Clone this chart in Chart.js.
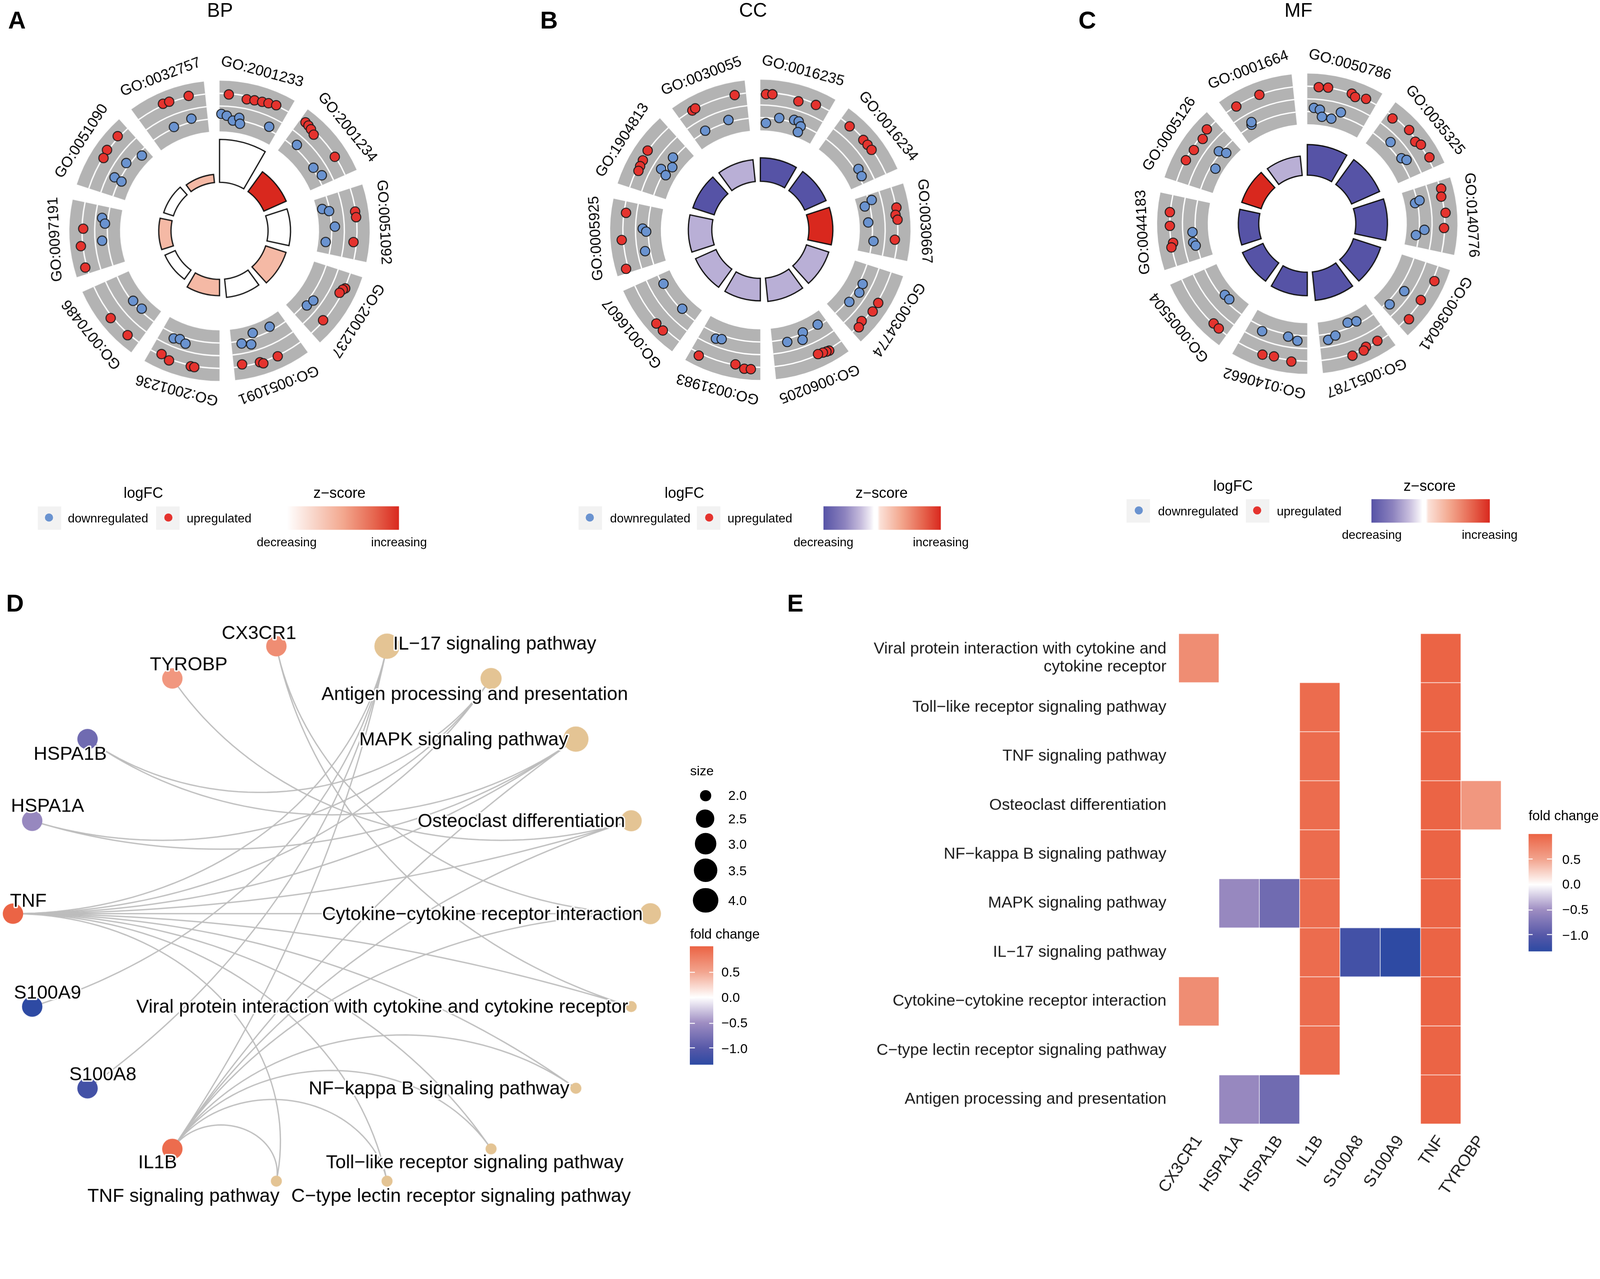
<!DOCTYPE html>
<html>
<head>
<meta charset="utf-8">
<title>GO circle, cnet and heatmap</title>
<script src="https://cdn.jsdelivr.net/npm/chart.js@4.4.1/dist/chart.umd.min.js"></script>
<style>
  html, body { margin: 0; padding: 0; background: #fff; overflow: hidden; }
  #page { position: absolute; left: 0; top: 0; width: 1568px; height: 1186px; transform-origin: 0 0;
          font-family: "Liberation Sans", Arial, Helvetica, sans-serif; color: #000; }
  .panel { position: absolute; }
  .txt { position: absolute; white-space: nowrap; line-height: 1; }
  .abs { position: absolute; }
</style>
</head>
<body>
<div id="page">
  <div class="panel" style="left:25px;top:36px;width:380px;height:380px"><canvas id="circleA"></canvas></div>
  <div class="panel" style="left:555px;top:35px;width:380px;height:380px"><canvas id="circleB"></canvas></div>
  <div class="panel" style="left:1091px;top:29px;width:380px;height:380px"><canvas id="circleC"></canvas></div>
  <div class="panel" style="left:0px;top:590px;width:680px;height:600px"><canvas id="cnetD"></canvas></div>
  <div class="panel" style="left:800px;top:600px;width:690px;height:590px"><canvas id="heatE"></canvas></div>
</div>
<script>
// ---- GO circle data (BP / CC / MF) ----
const bpTerms = ['GO:2001233','GO:2001234','GO:0051092','GO:2001237','GO:0051091','GO:2001236','GO:0070486','GO:0097191','GO:0051090','GO:0032757'];
const bpSignif = [4.2, 2.4, 2.2, 2.1, 1.8, 1.6, 1.1, 1.2, 1.0, 0.8];
const bpZscore = [0, 2.5, 0, 1.0, 0, 1.0, 0, 1.0, 0, 1.0];
// [term index, position inside the term, logFC]
const bpGenes = [
  [0,0.13,0.75],[0,0.39,0.6],[0,0.5,0.65],[0,0.61,0.7],[0,0.7,0.75],[0,0.81,0.82],
  [0,0.03,-0.5],[0,0.12,-0.6],[0,0.23,-0.87],[0,0.33,-0.64],[0,0.36,-1.0],[0,0.85,-0.6],
  [1,0.08,0.86],[1,0.14,0.82],[1,0.2,0.75],[1,0.28,0.62],[1,0.71,0.77],[1,0.2,-0.58],[1,0.67,-0.74],[1,0.85,-0.53],
  [2,0.2,-1.25],[2,0.26,-0.85],[2,0.53,-0.59],[2,0.8,-1.14],[2,0.33,0.77],[2,0.41,0.79],[2,0.76,0.61],
  [3,0.22,0.85],[3,0.25,0.74],[3,0.31,0.65],[3,0.76,0.76],[3,0.75,-0.63],[3,0.62,-0.5],
  [4,0.28,-1.05],[4,0.6,-1.1],[4,0.83,-0.63],[4,0.68,-0.44],[4,0.37,0.85],[4,0.63,0.8],[4,0.59,0.93],[4,0.88,0.67],
  [5,0.77,-0.5],[5,0.67,-0.6],[5,0.56,-0.44],[5,0.84,0.72],[5,0.71,0.9],[5,0.4,0.86],[5,0.35,0.87],
  [6,0.5,-0.86],[6,0.3,-0.93],[6,0.51,0.93],[6,0.18,0.9],
  [7,0.81,-0.42],[7,0.72,-0.63],[7,0.44,-0.44],[7,0.63,0.73],[7,0.39,0.93],[7,0.09,0.91],
  [8,0.83,0.9],[8,0.59,0.87],[8,0.47,0.77],[8,0.87,-1.05],[8,0.6,-0.6],[8,0.3,-0.44],[8,0.29,-0.95],
  [9,0.4,0.9],[9,0.49,0.87],[9,0.77,0.86],[9,0.41,-0.72],[9,0.73,-0.58]
];

const ccTerms = ['GO:0016235','GO:0016234','GO:0030667','GO:0034774','GO:0060205','GO:0031983','GO:0016607','GO:0005925','GO:1904813','GO:0030055'];
const ccSignif = [2.3, 2.3, 2.35, 2.3, 2.3, 2.2, 2.2, 2.3, 2.2, 2.15];
const ccZscore = [-2.2, -2.2, 2.0, -0.97, -0.97, -0.97, -0.97, -0.97, -2.2, -0.97];
const ccGenes = [
  [0,0.08,0.69],[0,0.17,0.71],[0,0.55,0.58],[0,0.8,0.75],[0,0.1,-1.13],[0,0.32,-0.72],[0,0.57,-0.62],[0,0.65,-0.62],[0,0.71,-0.87],[0,0.7,-1.27],
  [1,0.16,0.75],[1,0.43,0.75],[1,0.52,0.76],[1,0.61,0.77],[1,0.74,-0.59],[1,0.87,-0.64],
  [2,0.18,-1.12],[2,0.1,-0.6],[2,0.47,-1.05],[2,0.79,-0.7],[2,0.29,0.83],[2,0.39,0.71],[2,0.46,0.81],[2,0.74,0.64],
  [3,0.33,-0.57],[3,0.48,-0.48],[3,0.7,-0.65],[3,0.46,0.88],[3,0.6,0.89],[3,0.8,0.73],[3,0.89,0.87],
  [4,0.16,-0.89],[4,0.45,-0.87],[4,0.5,-0.44],[4,0.75,-0.6],[4,0.21,0.9],[4,0.25,0.87],[4,0.3,0.82],[4,0.37,0.77],
  [5,0.74,-0.46],[5,0.65,-0.56],[5,0.87,0.96],[5,0.35,0.76],[5,0.22,0.95],[5,0.13,0.94],
  [6,0.83,-0.88],[6,0.29,-0.87],[6,0.4,0.96],[6,0.27,0.97],
  [7,0.84,0.67],[7,0.46,0.9],[7,0.06,0.95],[7,0.62,-0.45],[7,0.57,-0.67],[7,0.25,-0.48],
  [8,0.57,0.82],[8,0.42,0.74],[8,0.33,0.71],[8,0.26,0.67],[8,0.72,-0.72],[8,0.58,-1.06],[8,0.45,-0.53],[8,0.4,-0.98],
  [9,0.21,0.79],[9,0.26,0.82],[9,0.84,0.78],[9,0.23,-0.72],[9,0.66,-0.66]
];

const mfTerms = ['GO:0050786','GO:0035325','GO:0140776','GO:0036041','GO:0051787','GO:0140662','GO:0005504','GO:0044183','GO:0005126','GO:0001664'];
const mfSignif = [3.0, 3.0, 3.1, 2.8, 2.8, 2.3, 2.2, 2.0, 2.0, 1.9];
const mfZscore = [-2.4, -2.4, -2.4, -2.4, -2.4, -2.4, -2.4, -2.4, 2.1, -1.06];
const mfGenes = [
  [0,0.16,0.77],[0,0.29,0.81],[0,0.63,0.8],[0,0.69,0.67],[0,0.84,0.83],[0,0.11,-0.56],[0,0.21,-0.64],[0,0.26,-1.07],[0,0.43,-1.08],[0,0.56,-0.54],
  [1,0.1,0.67],[1,0.38,0.86],[1,0.56,0.68],[1,0.64,0.86],[1,0.85,0.9],[1,0.32,-0.52],[1,0.64,-0.64],[1,0.71,-0.43],
  [2,0.11,0.86],[2,0.22,0.75],[2,0.45,0.88],[2,0.66,0.76],[2,0.24,-0.95],[2,0.21,-0.64],[2,0.7,-0.47],[2,0.8,-0.98],
  [3,0.21,0.93],[3,0.53,0.76],[3,0.84,0.93],[3,0.56,-0.42],[3,0.88,-0.6],
  [4,0.46,-1.13],[4,0.31,-0.98],[4,0.86,-0.43],[4,0.73,-0.6],[4,0.17,0.74],[4,0.35,0.73],[4,0.4,0.89],[4,0.57,0.93],
  [5,0.76,-0.52],[5,0.32,-0.65],[5,0.16,-0.46],[5,0.63,0.86],[5,0.47,0.76],[5,0.22,0.88],
  [6,0.44,-1.0],[6,0.33,-1.02],[6,0.24,0.76],[6,0.14,0.78],
  [7,0.76,0.83],[7,0.57,0.8],[7,0.33,0.68],[7,0.27,0.83],[7,0.46,-0.61],[7,0.29,-0.58],[7,0.23,-0.7],
  [8,0.84,0.82],[8,0.7,0.62],[8,0.5,0.66],[8,0.32,0.77],[8,0.71,-0.66],[8,0.77,-1.09],[8,0.43,-1.12],
  [9,0.16,0.77],[9,0.52,0.8],[9,0.22,-0.71],[9,0.24,-0.56]
];

// ---- KEGG data (cnetplot D + heatmap E) ----
const keggPathways = ['Viral protein interaction with cytokine and cytokine receptor','Toll\u2212like receptor signaling pathway','TNF signaling pathway','Osteoclast differentiation','NF\u2212kappa B signaling pathway','MAPK signaling pathway','IL\u221217 signaling pathway','Cytokine\u2212cytokine receptor interaction','C\u2212type lectin receptor signaling pathway','Antigen processing and presentation'];
const keggGenes = ['CX3CR1','HSPA1A','HSPA1B','IL1B','S100A8','S100A9','TNF','TYROBP'];
const geneFoldChange = [0.68, -0.55, -0.82, 0.93, -1.15, -1.31, 0.99, 0.6];
const pathwayGenes = [
  ['CX3CR1','TNF'], ['IL1B','TNF'], ['IL1B','TNF'], ['IL1B','TNF','TYROBP'], ['IL1B','TNF'],
  ['HSPA1A','HSPA1B','IL1B','TNF'], ['IL1B','S100A8','S100A9','TNF'], ['CX3CR1','IL1B','TNF'],
  ['IL1B','TNF'], ['HSPA1A','HSPA1B','TNF']
];
// node order around the circular layout (starting at -100 deg, counter-clockwise)
const cnetOrder = ['TNF signaling pathway','C\u2212type lectin receptor signaling pathway','Toll\u2212like receptor signaling pathway','NF\u2212kappa B signaling pathway','Viral protein interaction with cytokine and cytokine receptor','Cytokine\u2212cytokine receptor interaction','Osteoclast differentiation','MAPK signaling pathway','Antigen processing and presentation','IL\u221217 signaling pathway','CX3CR1','TYROBP','HSPA1B','HSPA1A','TNF','S100A9','S100A8','IL1B'];
const sizeBreaks = [2.0, 2.5, 3.0, 3.5, 4.0];
const fcBreaks = [0.5, 0.0, -0.5, -1.0];

// ---- styling / layout ----
const S = (window.innerWidth || 4328) / 1568;
const DPR = S * (window.devicePixelRatio || 1);
const FONT = '"Liberation Sans", Arial, Helvetica, sans-serif';
const SEG_STEP = 36, SEG_SPAN = 30;
const HOLE = 47.5, BAR_UNIT = 10, RING_IN = 97.4, RING_OUT = 147, LABEL_R = 157;
const FC_MIN = -1.6, FC_MAX = 1.6, GRID_FC = [-0.8, 0, 0.8];
const UP_COL = '#E5332E', DOWN_COL = '#6A93D0';
const zStops = [[-1,'#5653A6'],[-0.5,'#B0A4D0'],[0,'#FFFFFF'],[0.5,'#F2A88F'],[1,'#D9281E']];
const fcStops = [[-1.32,'#2D4AA3'],[-1.0,'#5658A8'],[-0.5,'#9E8DC2'],[0,'#FFFFFF'],[0.5,'#F2A48E'],[1.0,'#EB6344']];
const FC_LIM = [-1.32, 1.0];
const CNET_RX = 312.3, CNET_RY = 266;
const cnetLabelPos = {
  'CX3CR1': [-17, -12, 'center'], 'TYROBP': [16, -13, 'center'], 'HSPA1B': [-17, 15, 'center'],
  'HSPA1A': [15, -14, 'center'], 'TNF': [15, -12, 'center'], 'S100A9': [15, -13, 'center'],
  'S100A8': [15, -13, 'center'], 'IL1B': [-14.5, 14, 'center'],
  'IL\u221217 signaling pathway': [6, -2, 'left'],
  'Antigen processing and presentation': [-16, 16, 'center'],
  'MAPK signaling pathway': [-7.6, 1, 'right'],
  'Osteoclast differentiation': [-6, 1, 'right'],
  'Cytokine\u2212cytokine receptor interaction': [-7.5, 1, 'right'],
  'Viral protein interaction with cytokine and cytokine receptor': [-3, 1, 'right'],
  'NF\u2212kappa B signaling pathway': [-6.3, 1, 'right'],
  'Toll\u2212like receptor signaling pathway': [-16, 14, 'center'],
  'C\u2212type lectin receptor signaling pathway': [72.5, 15, 'center'],
  'TNF signaling pathway': [-91, 15, 'center']
};

const page = document.getElementById('page');
page.style.transform = 'scale(' + S + ')';

function hexRgb(h) { const n = parseInt(h.slice(1), 16); return [n >> 16 & 255, n >> 8 & 255, n & 255]; }
function lerpColor(stops, v) {
  if (v <= stops[0][0]) return stops[0][1];
  for (let i = 1; i < stops.length; i++) {
    if (v <= stops[i][0]) {
      const t = (v - stops[i - 1][0]) / (stops[i][0] - stops[i - 1][0]);
      const a = hexRgb(stops[i - 1][1]), b = hexRgb(stops[i][1]);
      return 'rgb(' + a.map((x, k) => Math.round(x + (b[k] - x) * t)).join(',') + ')';
    }
  }
  return stops[stops.length - 1][1];
}
const fcColor = v => lerpColor(fcStops, v);

function addText(str, x, y, size, opts = {}) {
  const d = document.createElement('div');
  d.className = 'txt';
  d.textContent = str;
  d.style.left = x + 'px';
  d.style.top = y + 'px';
  d.style.fontSize = size + 'px';
  const ax = opts.align === 'left' ? '0' : opts.align === 'right' ? '-100%' : '-50%';
  d.style.transform = 'translate(' + ax + ',-50%)';
  if (opts.bold) d.style.fontWeight = 'bold';
  page.appendChild(d);
  return d;
}
function addBox(x, y, w, h, css) {
  const d = document.createElement('div');
  d.className = 'abs';
  d.style.cssText += 'left:' + x + 'px;top:' + y + 'px;width:' + w + 'px;height:' + h + 'px;' + css;
  page.appendChild(d);
  return d;
}

// ---------- A/B/C: GO circles ----------
const fcRadius = v => RING_IN + (v - FC_MIN) / (FC_MAX - FC_MIN) * (RING_OUT - RING_IN);
function genePoint(g) {
  const ang = (g[0] * SEG_STEP + g[1] * SEG_SPAN) * Math.PI / 180;
  const r = fcRadius(g[2]);
  return { x: r * Math.sin(ang), y: r * Math.cos(ang) };
}

function ringPlugin(terms, signif, zscore) {
  const negExt = Math.max(...zscore.map(z => -z), 1e-9);
  const posExt = Math.max(...zscore, 1e-9);
  return {
    id: 'goRing',
    beforeDatasetsDraw(chart) {
      const { ctx } = chart;
      const xs = chart.scales.x, ys = chart.scales.y;
      const cx = xs.getPixelForValue(0), cy = ys.getPixelForValue(0);
      const rad = v => xs.getPixelForValue(v) - cx;
      ctx.save();
      terms.forEach((term, i) => {
        const a0 = (i * SEG_STEP - 90) * Math.PI / 180;
        const a1 = (i * SEG_STEP + SEG_SPAN - 90) * Math.PI / 180;
        // grey logFC track
        ctx.beginPath();
        ctx.arc(cx, cy, rad(RING_OUT), a0, a1);
        ctx.arc(cx, cy, rad(RING_IN), a1, a0, true);
        ctx.closePath();
        ctx.fillStyle = '#B3B3B3';
        ctx.fill();
        ctx.strokeStyle = '#FFFFFF';
        ctx.lineWidth = 1.3;
        GRID_FC.forEach(v => { ctx.beginPath(); ctx.arc(cx, cy, rad(fcRadius(v)), a0, a1); ctx.stroke(); });
        // inner bar, coloured by z-score
        const z = zscore[i];
        const t = z < 0 ? z / negExt : z / posExt;
        ctx.beginPath();
        ctx.arc(cx, cy, rad(HOLE + signif[i] * BAR_UNIT), a0, a1);
        ctx.arc(cx, cy, rad(HOLE), a1, a0, true);
        ctx.closePath();
        ctx.fillStyle = lerpColor(zStops, t);
        ctx.fill();
        ctx.strokeStyle = '#111';
        ctx.lineWidth = 1.2;
        ctx.lineJoin = 'miter';
        ctx.stroke();
        // term label
        ctx.save();
        ctx.translate(cx, cy);
        ctx.rotate((i * SEG_STEP + SEG_SPAN / 2) * Math.PI / 180);
        ctx.font = '14.5px ' + FONT;
        ctx.fillStyle = '#000';
        ctx.textAlign = 'center';
        ctx.textBaseline = 'alphabetic';
        ctx.fillText(term, 0, -rad(LABEL_R));
        ctx.restore();
      });
      ctx.restore();
    }
  };
}

function goCircle(id, terms, signif, zscore, genes) {
  new Chart(document.getElementById(id), {
    type: 'scatter',
    data: {
      datasets: [
        { data: genes.filter(g => g[2] < 0).map(genePoint), backgroundColor: DOWN_COL },
        { data: genes.filter(g => g[2] > 0).map(genePoint), backgroundColor: UP_COL }
      ]
    },
    options: {
      responsive: true, maintainAspectRatio: false, animation: false, devicePixelRatio: DPR,
      layout: { padding: 0, autoPadding: false },
      elements: { point: { radius: 4.6, borderWidth: 0.9, borderColor: '#1a1a1a', hoverRadius: 4.6 } },
      scales: { x: { display: false, min: -190, max: 190 }, y: { display: false, min: -190, max: 190 } },
      plugins: { legend: { display: false }, tooltip: { enabled: false } },
      events: []
    },
    plugins: [ringPlugin(terms, signif, zscore)]
  });
}
goCircle('circleA', bpTerms, bpSignif, bpZscore, bpGenes);
goCircle('circleB', ccTerms, ccSignif, ccZscore, ccGenes);
goCircle('circleC', mfTerms, mfSignif, mfZscore, mfGenes);

// panel letters and titles
[['A', 16.6, 19.5], ['B', 538, 19.5], ['C', 1065.5, 19.5], ['D', 14.7, 591], ['E', 779.4, 591]]
  .forEach(([s, x, y]) => addText(s, x, y, 24, { bold: true }));
[['BP', 215.6], ['CC', 738], ['MF', 1272.5]].forEach(([s, x]) => addText(s, x, 10, 19));

// GO legends
const zGradRed = 'linear-gradient(to right,#FFFFFF 0%,#F9D9CE 22%,#F3A88F 50%,#E6664F 78%,#D9281E 100%)';
const zGradBoth = 'linear-gradient(to right,#5653A6 0%,#8C82BE 18%,#C7BDDD 32%,#EEEAF4 40%,#FFFFFF 43%,#FFFFFF 46%,#FBE1D8 48%,#F3A88F 66%,#E5604A 86%,#D9281E 100%)';
function goLegend(L) {
  addText('logFC', L.logX, L.titleY, 14.5);
  addBox(L.downBox, L.boxY, 23, 23, 'background:#F2F2F2');
  addBox(L.downBox + 7.5, L.boxY + 7.5, 8, 8, 'border-radius:50%;background:' + DOWN_COL);
  addText('downregulated', L.downText, L.boxY + 12, 12, { align: 'left' });
  addBox(L.upBox, L.boxY, 23, 23, 'background:#F2F2F2');
  addBox(L.upBox + 7.5, L.boxY + 7.5, 8, 8, 'border-radius:50%;background:' + UP_COL);
  addText('upregulated', L.upText, L.boxY + 12, 12, { align: 'left' });
  addText('z\u2212score', L.zX, L.titleY, 14.5);
  addBox(L.bar0, L.boxY, L.bar1 - L.bar0, 23, 'background:' + L.grad);
  addText('decreasing', L.bar0, L.labelY, 12);
  addText('increasing', L.bar1, L.labelY, 12);
}
goLegend({ logX: 140.5, titleY: 483, boxY: 495.5, downBox: 36.6, downText: 66.5, upBox: 153, upText: 183, zX: 332.7, bar0: 281, bar1: 391, labelY: 531, grad: zGradRed });
goLegend({ logX: 670.7, titleY: 483, boxY: 495.5, downBox: 566.7, downText: 597.9, upBox: 683, upText: 713, zX: 864, bar0: 807, bar1: 922, labelY: 531, grad: zGradBoth });
goLegend({ logX: 1208.4, titleY: 476.3, boxY: 488.7, downBox: 1104, downText: 1134.9, upBox: 1220.7, upText: 1251.3, zX: 1401, bar0: 1344.4, bar1: 1459.9, labelY: 524.4, grad: zGradBoth });

// ---------- D: cnetplot (circular layout) ----------
const nodeAngle = k => (-100 + 20 * k) * Math.PI / 180;
const sizeRadius = s => 5.4 + 7 * Math.sqrt((s - 2) / 2);
const isGene = name => keggGenes.includes(name);
const nodeXY = k => ({ x: CNET_RX * Math.cos(nodeAngle(k)), y: CNET_RY * Math.sin(nodeAngle(k)) });

const pathNodes = cnetOrder.map((n, k) => [n, k]).filter(([n]) => !isGene(n));
const geneNodes = cnetOrder.map((n, k) => [n, k]).filter(([n]) => isGene(n));

function arcPoints(t1, t2) {
  // arc orthogonal to the layout circle, in unit-circle space
  let d = t2 - t1;
  while (d > Math.PI) d -= 2 * Math.PI;
  while (d <= -Math.PI) d += 2 * Math.PI;
  const phi = Math.abs(d);
  const A = [Math.cos(t1), Math.sin(t1)], B = [Math.cos(t2), Math.sin(t2)];
  if (phi > Math.PI - 0.02) return [A, B];
  const m = t1 + d / 2, q = 1 / Math.cos(phi / 2), rho = Math.tan(phi / 2);
  const Q = [q * Math.cos(m), q * Math.sin(m)];
  const s1 = Math.atan2(A[1] - Q[1], A[0] - Q[0]);
  let ds = Math.atan2(B[1] - Q[1], B[0] - Q[0]) - s1;
  while (ds > Math.PI) ds -= 2 * Math.PI;
  while (ds < -Math.PI) ds += 2 * Math.PI;
  const pts = [];
  for (let j = 0; j <= 48; j++) {
    const s = s1 + ds * j / 48;
    pts.push([Q[0] + rho * Math.cos(s), Q[1] + rho * Math.sin(s)]);
  }
  return pts;
}

const cnetPlugin = {
  id: 'cnet',
  beforeDatasetsDraw(chart) {
    const { ctx } = chart;
    const xs = chart.scales.x, ys = chart.scales.y;
    ctx.save();
    ctx.strokeStyle = '#BDBDBD';
    ctx.lineWidth = 1.25;
    keggPathways.forEach((p, i) => {
      const kp = cnetOrder.indexOf(p);
      pathwayGenes[i].forEach(g => {
        const kg = cnetOrder.indexOf(g);
        const pts = arcPoints(nodeAngle(kg), nodeAngle(kp));
        ctx.beginPath();
        pts.forEach(([ux, uy], j) => {
          const px = xs.getPixelForValue(ux * CNET_RX), py = ys.getPixelForValue(uy * CNET_RY);
          if (j === 0) ctx.moveTo(px, py); else ctx.lineTo(px, py);
        });
        ctx.stroke();
      });
    });
    ctx.restore();
  },
  afterDatasetsDraw(chart) {
    const { ctx } = chart;
    const xs = chart.scales.x, ys = chart.scales.y;
    ctx.save();
    ctx.font = '18.5px ' + FONT;
    ctx.textBaseline = 'middle';
    ctx.lineJoin = 'round';
    cnetOrder.forEach((name, k) => {
      const p = nodeXY(k);
      const [dx, dy, align] = cnetLabelPos[name];
      const px = xs.getPixelForValue(p.x) + dx, py = ys.getPixelForValue(p.y) + dy;
      ctx.textAlign = align;
      ctx.strokeStyle = '#FFFFFF';
      ctx.lineWidth = 2.6;
      ctx.strokeText(name, px, py);
      ctx.fillStyle = '#000';
      ctx.fillText(name, px, py);
    });
    ctx.restore();
  }
};

new Chart(document.getElementById('cnetD'), {
  type: 'scatter',
  data: {
    datasets: [
      {
        data: pathNodes.map(([n, k]) => nodeXY(k)),
        pointRadius: pathNodes.map(([n]) => sizeRadius(pathwayGenes[keggPathways.indexOf(n)].length)),
        backgroundColor: '#E4C494', borderWidth: 0, clip: false
      },
      {
        data: geneNodes.map(([n, k]) => nodeXY(k)),
        pointRadius: 10,
        backgroundColor: geneNodes.map(([n]) => fcColor(geneFoldChange[keggGenes.indexOf(n)])),
        borderWidth: 0, clip: false
      }
    ]
  },
  options: {
    responsive: true, maintainAspectRatio: false, animation: false, devicePixelRatio: DPR,
    layout: { padding: 0, autoPadding: false },
    scales: { x: { display: false, min: -325, max: 355 }, y: { display: false, min: -295, max: 305 } },
    plugins: { legend: { display: false }, tooltip: { enabled: false } },
    events: []
  },
  plugins: [cnetPlugin]
});

// D legend (size + fold change)
addText('size', 676.3, 754.7, 13, { align: 'left' });
const sizeRowY = [779.3, 802.1, 826.5, 852.5, 882];
sizeBreaks.forEach((s, i) => {
  const r = sizeRadius(s);
  addBox(691.2 - r, sizeRowY[i] - r, 2 * r, 2 * r, 'border-radius:50%;background:#000');
  addText(s.toFixed(1), 713.7, sizeRowY[i], 13, { align: 'left' });
});

function fcGradient() {
  const span = FC_LIM[1] - FC_LIM[0];
  const stops = fcStops.map(([v, c]) => c + ' ' + ((v - FC_LIM[0]) / span * 100).toFixed(1) + '%');
  return 'linear-gradient(to top,' + stops.join(',') + ')';
}
function fcColorbar(titleX, titleY, x0, x1, y0, y1, labelX, titleSize) {
  addText('fold change', titleX, titleY, titleSize, { align: 'left' });
  addBox(x0, y0, x1 - x0, y1 - y0, 'background:' + fcGradient());
  fcBreaks.forEach(v => {
    const y = y0 + (FC_LIM[1] - v) / (FC_LIM[1] - FC_LIM[0]) * (y1 - y0);
    addBox(x0, y - 0.4, 4.6, 0.8, 'background:rgba(255,255,255,0.9)');
    addBox(x1 - 4.6, y - 0.4, 4.6, 0.8, 'background:rgba(255,255,255,0.9)');
    addText((v < 0 ? '\u2212' : '') + Math.abs(v).toFixed(1), labelX, y, 13, { align: 'left' });
  });
}
fcColorbar(676.3, 914.9, 676, 699.3, 927.4, 1042.8, 707, 13.2);

// ---------- E: gene x pathway heatmap ----------
const heatDatasets = keggPathways.map((p, i) => ({
  data: keggGenes.map(g => pathwayGenes[i].includes(g) ? [i, i + 1] : null),
  backgroundColor: keggGenes.map((g, j) => fcColor(geneFoldChange[j])),
  borderColor: 'rgba(255,255,255,0.55)',
  borderWidth: 0.6,
  borderSkipped: false,
  barPercentage: 1,
  categoryPercentage: 1,
  grouped: false
}));
function pathwayTick(i) {
  const name = keggPathways[i];
  return name.length > 45 ? ['Viral protein interaction with cytokine and', 'cytokine receptor'] : name;
}

new Chart(document.getElementById('heatE'), {
  type: 'bar',
  data: { labels: keggGenes, datasets: heatDatasets },
  options: {
    responsive: true, maintainAspectRatio: false, animation: false, devicePixelRatio: DPR,
    layout: { padding: { top: 18, right: 19, left: 0, bottom: 0 }, autoPadding: false },
    plugins: { legend: { display: false }, tooltip: { enabled: false } },
    events: [],
    scales: {
      x: {
        type: 'category',
        grid: { display: false, drawTicks: false },
        border: { display: false },
        ticks: { minRotation: 56, maxRotation: 56, padding: 8, color: '#1a1a1a', font: { size: 16, family: FONT } },
        afterFit: s => { s.height = 89; }
      },
      y: {
        type: 'linear', reverse: true, min: 0, max: keggPathways.length,
        grid: { display: false, drawTicks: false },
        border: { display: false },
        afterBuildTicks: s => { s.ticks = keggPathways.map((_, i) => ({ value: i + 0.5 })); },
        ticks: {
          autoSkip: false, padding: 12, color: '#1a1a1a',
          font: { size: 15.8, family: FONT, lineHeight: 1.1 },
          callback: (v, i) => pathwayTick(i)
        },
        afterFit: s => { s.width = 355; }
      }
    }
  }
});
fcColorbar(1498, 799.2, 1497.8, 1520.8, 817, 931.6, 1531, 13.3);
</script>
</body>
</html>
